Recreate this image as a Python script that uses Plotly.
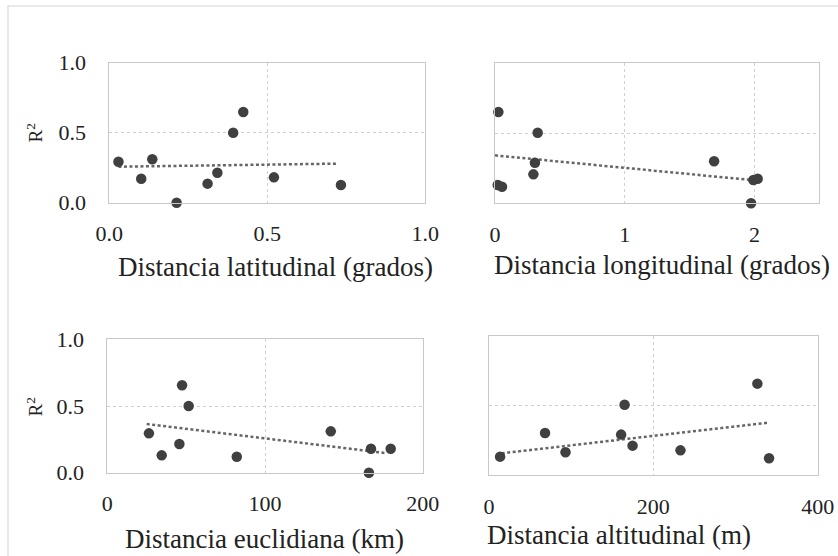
import plotly.graph_objects as go

W, H = 838, 556

# ---- data ----
lat_x = [0.029, 0.101, 0.136, 0.213, 0.311, 0.342, 0.392, 0.424, 0.521, 0.733]
lat_y = [0.293, 0.171, 0.310, 0.000, 0.136, 0.214, 0.500, 0.648, 0.181, 0.126]
lat_trend_x = [0.029, 0.72]
lat_trend_y = [0.257, 0.279]

lon_x = [0.026, 0.329, 0.308, 0.296, 0.021, 0.054, 1.689, 1.992, 2.025, 1.974]
lon_y = [0.649, 0.502, 0.289, 0.206, 0.130, 0.118, 0.299, 0.166, 0.175, 0.000]
lon_trend_x = [0.0, 1.97]
lon_trend_y = [0.341, 0.166]

euc_x = [26.4, 34.5, 45.7, 47.4, 51.6, 82.1, 141.7, 167.2, 165.9, 179.7]
euc_y = [0.295, 0.130, 0.215, 0.655, 0.500, 0.120, 0.310, 0.180, 0.000, 0.180]
euc_trend_x = [25.0, 176.0]
euc_trend_y = [0.365, 0.148]

alt_x = [13.5, 68.2, 93.1, 106.5, 165.0, 160.8, 174.7, 233.0, 326.6, 340.8]
alt_y = [0.134, 0.304, 0.165, -0.005, 0.507, 0.292, 0.213, 0.179, 0.658, 0.122]
alt_trend_x = [15.5, 340.0]
alt_trend_y = [0.158, 0.378]

x_titles = ["Distancia latitudinal (grados)", "Distancia longitudinal (grados)",
            "Distancia euclidiana (km)", "Distancia altitudinal (m)"]
y_title = "R<sup>2</sup>"
x_ranges = [[0, 1], [0, 2.5], [0, 200], [0, 400]]
x_dticks = [0.5, 1, 100, 200]
x_formats = [".1f", "d", "d", "d"]

panels = [(lat_x, lat_y, lat_trend_x, lat_trend_y),
          (lon_x, lon_y, lon_trend_x, lon_trend_y),
          (euc_x, euc_y, euc_trend_x, euc_trend_y),
          (alt_x, alt_y, alt_trend_x, alt_trend_y)]

# pixel boxes of plot areas (left, right, top, bottom)
boxes = [(109.3, 425.3, 62.7, 202.7),
         (495.0, 819.3, 62.7, 203.3),
         (107.3, 422.7, 339.3, 472.7),
         (489.0, 817.7, 336.0, 475.3)]

FONT = "Liberation Serif, DejaVu Serif, Times New Roman, serif"
fig = go.Figure()

for i, (px, py, tx, ty) in enumerate(panels):
    n = i + 1
    xa = "x" if n == 1 else f"x{n}"
    ya = "y" if n == 1 else f"y{n}"
    fig.add_trace(go.Scatter(x=tx, y=ty, mode="lines", xaxis=xa, yaxis=ya,
                             line=dict(color="#666666", width=2.5, dash="3px,2.5px"),
                             showlegend=False, hoverinfo="skip"))
    fig.add_trace(go.Scatter(x=px, y=py, mode="markers", xaxis=xa, yaxis=ya,
                             marker=dict(color="#404040", size=10.5),
                             cliponaxis=False, showlegend=False))
    l, r, t, b = boxes[i]
    xkey = "xaxis" if n == 1 else f"xaxis{n}"
    ykey = "yaxis" if n == 1 else f"yaxis{n}"
    fig.update_layout(**{
        xkey: dict(domain=[l / W, r / W], anchor=ya, range=x_ranges[i],
                   dtick=x_dticks[i], tick0=0, tickformat=x_formats[i],
                   showgrid=True, gridcolor="#d0d0d0", griddash="dot", gridwidth=1,
                   zeroline=False, showline=True, linecolor="#c8c8c8", linewidth=1,
                   mirror=True, ticks="", ticklabelstandoff=11, automargin=False,
                   tickfont=dict(family=FONT, size=22, color="#222222")),
        ykey: dict(domain=[1 - b / H, 1 - t / H], anchor=xa, range=[0, 1],
                   dtick=0.5, tick0=0, tickformat=".1f",
                   showgrid=True, gridcolor="#d0d0d0", griddash="dot", gridwidth=1,
                   zeroline=False, showline=True, linecolor="#c8c8c8", linewidth=1,
                   mirror=True, ticks="", ticklabelstandoff=18, automargin=False,
                   showticklabels=(n in (1, 3)),
                   tickfont=dict(family=FONT, size=22, color="#222222")),
    })

# x-axis titles as annotations (pixel positions)
title_pos = [(275, 267), (662, 265), (264.5, 539), (619, 535)]
annotations = []
for (cx, cy), txt in zip(title_pos, x_titles):
    annotations.append(dict(text=txt, x=cx / W, y=1 - cy / H, xref="paper", yref="paper",
                            xanchor="center", yanchor="middle", showarrow=False,
                            font=dict(family=FONT, size=27, color="#222222")))
for cy in (133, 407):
    annotations.append(dict(text=y_title, x=34.5 / W, y=1 - cy / H, xref="paper", yref="paper",
                            xanchor="center", yanchor="middle", showarrow=False, textangle=-90,
                            font=dict(family=FONT, size=19, color="#222222")))

fig.update_layout(
    width=W, height=H,
    margin=dict(l=0, r=0, t=0, b=0, autoexpand=False),
    paper_bgcolor="white", plot_bgcolor="white",
    annotations=annotations,
    shapes=[dict(type="rect", xref="paper", yref="paper",
                 x0=8 / W, x1=1.02, y0=-0.02, y1=1 - 6 / H,
                 line=dict(color="#e2e2e2", width=1.5), fillcolor="rgba(0,0,0,0)", layer="below")],
)

fig.write_html("out.html", config={"displayModeBar": False},
               post_script="document.body.style.margin='0';document.body.style.overflow='hidden';")
